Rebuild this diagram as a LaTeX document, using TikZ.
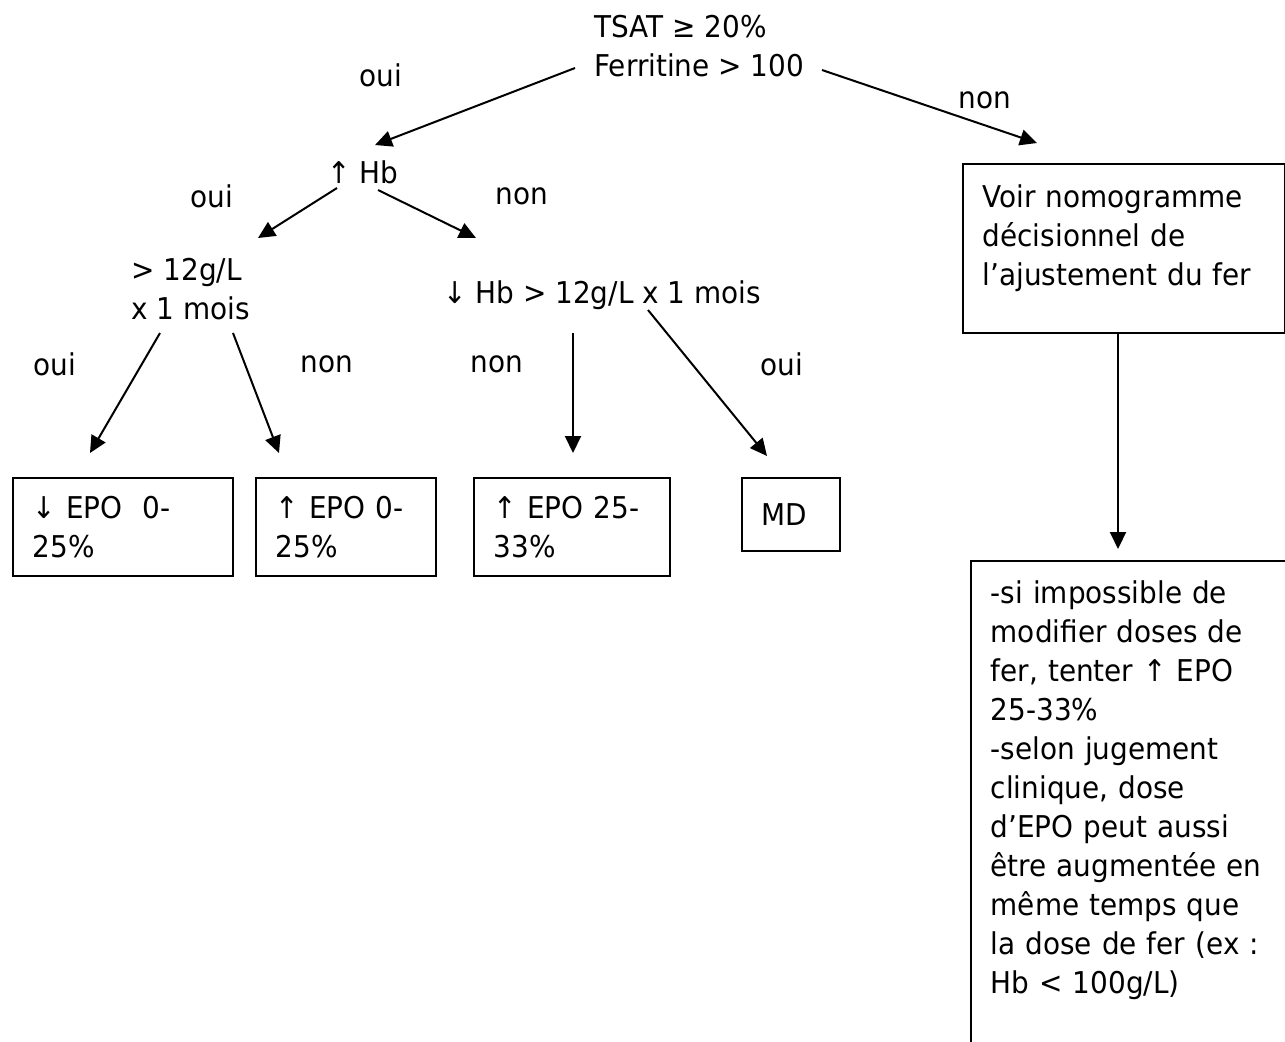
\documentclass[tikz,border=0pt]{standalone}
\usepackage{fontspec}
\setmainfont{DejaVu Sans}[FakeStretch=0.93]
\usetikzlibrary{arrows.meta}

\begin{document}
\begin{tikzpicture}[x=0.5pt,y=-0.5pt,
  every node/.style={font=\fontsize{15pt}{19.5pt}\selectfont,inner sep=0pt},
  txt/.style={anchor=north west,align=left},
  box/.style={draw,line width=0.75pt,anchor=north west,align=left,inner xsep=10pt},
  arr/.style={line width=1pt,-{Triangle[length=8.5pt,width=8pt]}}]

  \useasboundingbox (0,0) rectangle (1285,1041);
  \fill[white] (0,0) rectangle (1285,1041);
  \clip (0,0) rectangle (1285,1041);

  % questions
  \node[txt] (tsat) at (594,15) {TSAT ≥ 20\%\\Ferritine > 100};
  \node[anchor=base west] (hb) at (327,183) {↑ Hb};
  \node[txt] (hbmois) at (131,258) {> 12g/L\\x 1 mois};
  \node[anchor=base west] (hbbas) at (443,303) {↓ Hb > 12g/L x 1 mois};

  % decisions
  \node[box,minimum width=110pt,minimum height=49pt,text width=90pt] (epo1) at (12,477) {↓ EPO~ 0-\\25\%};
  \node[box,minimum width=90pt,minimum height=49pt,text width=70pt] (epo2) at (255,477) {↑ EPO 0-\\25\%};
  \node[box,minimum width=98pt,minimum height=49pt,text width=78pt] (epo3) at (473,477) {↑ EPO 25-\\33\%};
  \node[box,minimum width=49pt,minimum height=36.5pt,text width=29pt] (md) at (741,477) {MD};
  \node[box,minimum width=161pt,minimum height=84.5pt,text width=141pt] (fer) at (962,163)
    {Voir nomogramme\\décisionnel de\\l’ajustement du fer\\[-6.5pt]\mbox{}};
  \node[box,inner ysep=10pt,minimum width=165pt,text width=145pt] (note) at (970,560)
    {-si impossible de\\modifier doses de\\fer, tenter ↑ EPO\\25-33\%\\-selon jugement\\clinique, dose\\d’EPO peut aussi\\être augmentée en\\même temps que\\la dose de fer (ex :\\Hb < 100g/L)\\\mbox{}\\\mbox{}};

  % oui / non
  \node (oui1) at (381,75) {oui};
  \node (non1) at (985,100) {non};
  \node (oui2) at (212,196) {oui};
  \node (non2) at (522,196) {non};
  \node (oui3) at (55,364) {oui};
  \node (non3) at (327,364) {non};
  \node (non4) at (497,364) {non};
  \node (oui4) at (782,364) {oui};

  % arrows
  \draw[arr] ([shift={(-19,53)}]tsat.north west) -- ([shift={(48,-38)}]hb.base west);
  \draw[arr] ([shift={(228,55)}]tsat.north west) -- ([shift={(75,-20)}]fer.north west);
  \draw[arr] ([shift={(10,5)}]hb.base west) -- ([shift={(127,-20)}]hbmois.north west);
  \draw[arr] ([shift={(51,7)}]hb.base west) -- ([shift={(33,-65)}]hbbas.base west);
  \draw[arr] ([shift={(29,75)}]hbmois.north west) -- ([shift={(78,-24)}]epo1.north west);
  \draw[arr] ([shift={(102,75)}]hbmois.north west) -- ([shift={(24,-24)}]epo2.north west);
  \draw[arr] ([shift={(130,30)}]hbbas.base west) -- ([shift={(100,-24)}]epo3.north west);
  \draw[arr] ([shift={(205,7)}]hbbas.base west) -- ([shift={(26,-21)}]md.north west);
  \draw[arr] ([shift={(156,0)}]fer.south west) -- ([shift={(148,-11)}]note.north west);

\end{tikzpicture}
\end{document}
